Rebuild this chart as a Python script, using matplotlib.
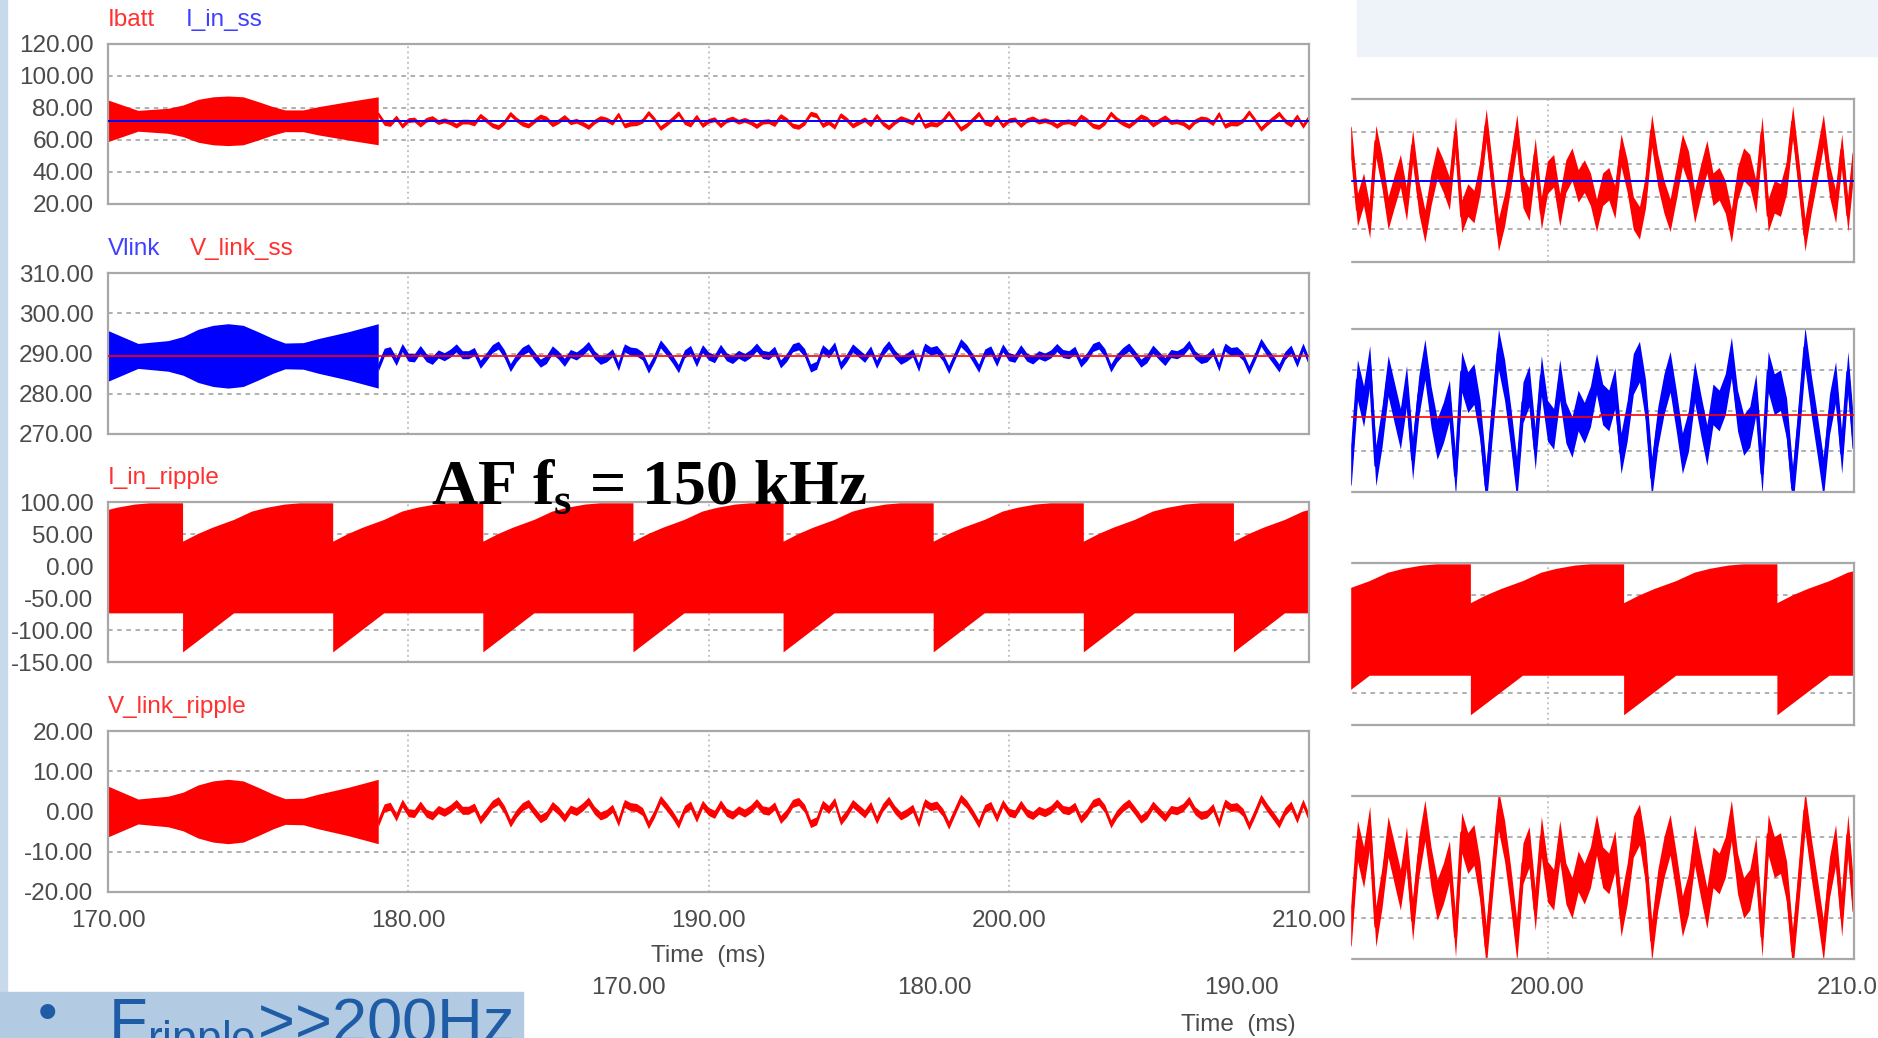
import numpy as np
import matplotlib
matplotlib.use('Agg')
from matplotlib import pyplot as plt
from matplotlib.patches import Rectangle

plt.rcParams['font.family'] = ['Liberation Sans', 'DejaVu Sans']
plt.rcParams['axes.unicode_minus'] = False
W, H = 1878, 1038

# steady-state part, sampled every 0.2 ms from 179 to 210 ms
t_ss = np.round(np.arange(179.0, 210.001, 0.2), 1)

# V_link_ripple (V)
v_link_ripple = [
    -2.8, 0.9, 1.3, -1.4, 2.1, -0.3, -0.5, 1.6, -0.4, -1.1,
    0.5, -0.2, 0.7, 2.0, 0.3, 0.3, 1.1, -2.1, -0.2, 1.8,
    2.7, 0.5, -2.9, -0.5, 1.2, 2.0, 0.0, -1.8, -0.9, 1.5,
    0.2, -1.6, 0.6, 0.0, 1.1, 2.6, 0.3, -1.1, -0.5, 0.8,
    -2.7, 2.0, 1.2, 1.0, 0.0, -3.3, -0.5, 3.0, 1.2, -0.8,
    -3.2, 0.5, 1.6, -1.7, 1.8, 0.0, -0.7, 1.9, -0.2, -0.9,
    0.4, -0.4, 0.6, 2.2, 0.4, 0.1, 1.4, -2.0, -0.4, 2.0,
    2.5, 0.8, -3.0,
    -2.3, 1.8, 0.5, 2.5, -2.4, -0.5, 2.0, 0.7, -0.6, 1.5,
    -2.1, 1.0, 2.8, 0.5, -1.1, -0.3, 0.8, -2.9, 2.2, 1.2,
    1.6, -0.2, -3.4, 0.0, 3.3, 1.8, -0.5, -3.1, 0.7, 1.5,
    -1.6, 2.0, -0.2, -0.6, 1.8, -0.3, -1.0, 0.3, -0.3, 0.5,
    2.1, 0.5, 0.2, 1.3, -1.9, -0.3, 2.0, 2.6, 0.7, -3.1,
    -0.6, 1.0, 2.1, 0.2, -1.9, -0.8, 1.6, 0.0, -1.5, 0.5,
    0.2, 1.0, 2.8, 0.2, -1.0, -0.6, 1.0, -2.9, 2.1, 1.0,
    1.2, -0.2, -3.6, -0.3, 3.3, 1.0, -1.0, -3.1, 0.0, 1.6,
    -1.9, 2.1, -1.6]

# Ibatt (A), same time base
ibatt = [
    76.2, 70.7, 70.0, 74.1, 68.8, 72.4, 72.8, 69.6, 72.6, 73.7,
    71.2, 72.3, 71.0, 69.0, 71.5, 71.5, 70.3, 75.2, 72.3, 69.3,
    68.0, 71.2, 76.4, 72.8, 70.2, 69.0, 72.0, 74.7, 73.4, 69.8,
    71.7, 74.4, 71.1, 72.0, 70.3, 68.1, 71.5, 73.7, 72.8, 70.8,
    76.0, 69.0, 70.2, 70.5, 72.0, 77.0, 72.8, 67.5, 70.2, 73.2,
    76.8, 71.2, 69.6, 74.6, 69.3, 72.0, 73.0, 69.2, 72.3, 73.4,
    71.4, 72.6, 71.1, 68.7, 71.4, 71.8, 69.9, 75.0, 72.6, 69.0,
    68.2, 70.8, 76.5,
    75.4, 69.3, 71.2, 68.2, 75.6, 72.8, 69.0, 71.0, 72.9, 69.8,
    75.2, 70.5, 67.8, 71.2, 73.7, 72.4, 70.8, 76.4, 68.7, 70.2,
    69.6, 72.3, 77.1, 72.0, 67.0, 69.3, 72.8, 76.6, 71.0, 69.8,
    74.4, 69.0, 72.3, 72.9, 69.3, 72.4, 73.5, 71.5, 72.4, 71.2,
    68.8, 71.2, 71.7, 70.0, 74.8, 72.4, 69.0, 68.1, 71.0, 76.6,
    72.9, 70.5, 68.8, 71.7, 74.8, 73.2, 69.6, 72.0, 74.2, 71.2,
    71.7, 70.5, 67.8, 71.7, 73.5, 72.9, 70.5, 76.4, 68.8, 70.5,
    70.2, 72.3, 77.4, 72.4, 67.0, 70.5, 73.5, 76.6, 72.0, 69.6,
    74.8, 68.8, 74.4]

# beat envelope (half height) of the transient part, 170..179 ms
env_t = [170.0, 171.0, 172.0, 172.5, 173.0, 173.5, 174.0, 174.5, 175.0,
         175.5, 175.9, 176.5, 177.0, 178.0, 179.0]
ibatt_env = [13.0, 6.5, 7.8, 9.9, 13.4, 15.0, 15.5, 15.0, 12.0,
             8.8, 6.8, 6.8, 8.8, 12.0, 15.0]
vlink_env = [6.3, 3.1, 3.8, 4.8, 6.6, 7.6, 8.0, 7.6, 6.0,
             4.3, 3.2, 3.3, 4.3, 6.0, 8.0]

i_in_ss = 72.0
v_link_center = 289.4
v_link_ss_t = [170.0, 201.7, 201.7, 210.0]
v_link_ss = [289.4, 289.4, 289.5, 289.5]

# I_in_ripple envelope: one cycle after each drop
i_in_drops = [167.5, 172.5, 177.5, 182.5, 187.5, 192.5, 197.5, 202.5, 207.5]
i_in_up_dt = [0.0, 0.5, 1.0, 1.7, 2.3, 2.8, 3.4, 3.9, 5.0]
i_in_up = [38, 50, 60, 72, 85, 91, 96, 98, 98]
i_in_lo_dt = [0.0, 1.7, 5.0]
i_in_lo = [-135, -74, -74]

v_sw = 1.0   # switching ripple half height, V
i_sw = 1.5   # A

vlink = np.array(v_link_ripple) + np.interp(t_ss, v_link_ss_t, v_link_ss)
ibatt = np.array(ibatt)
v_rip = np.array(v_link_ripple)

ux, uy, lx, ly = [], [], [], []
for td in i_in_drops:
    ux += [td + d for d in i_in_up_dt]
    uy += i_in_up
    lx += [td + d for d in i_in_lo_dt]
    ly += i_in_lo
iin_x = ux + lx[::-1]
iin_y = uy + ly[::-1]

RED = '#ff0000'
BLUE = '#0000ff'


def box(x0, y0, x1, y1):
    return [x0 / W, 1 - y1 / H, (x1 - x0) / W, (y1 - y0) / H]


def style(ax, ylim, yticks, left=True, bottom=False):
    ax.set_xlim(170, 210)
    ax.set_ylim(ylim)
    ax.set_xticks([170, 180, 190, 200, 210])
    ax.set_yticks(yticks)
    for s in ax.spines.values():
        s.set_color('#a8a8a8')
        s.set_linewidth(1.6)
    ax.tick_params(length=0, labelsize=17.5, labelcolor='#4a4a4a')
    ax.tick_params(axis='y', pad=10.5, labelleft=left)
    ax.tick_params(axis='x', pad=13, labelbottom=bottom)
    ax.xaxis.set_major_formatter('{x:.2f}')
    ax.yaxis.set_major_formatter('{x:.2f}')
    for y in yticks[1:-1]:
        ax.axhline(y, color='#9a9a9a', lw=1.1, dashes=(3, 3), zorder=0.5)
    for x in (180, 190, 200):
        ax.axvline(x, color='#b0b0b0', lw=1.1, dashes=(1.2, 2.2), zorder=0.5)


def noise(ax, y, sw, color, lw):
    ax.fill_between(t_ss, y - sw, y + sw, color=color, lw=0, zorder=2)
    ax.plot(t_ss, y, color=color, lw=lw, zorder=2)


def draw_ibatt(ax, lw):
    env = np.array(ibatt_env)
    ax.fill_between(env_t, i_in_ss - env, i_in_ss + env, color=RED, lw=0, zorder=2)
    noise(ax, ibatt, i_sw, RED, lw)
    ax.axhline(i_in_ss, color=BLUE, lw=1.4, zorder=3)


def draw_vlink(ax, lw):
    env = np.array(vlink_env)
    ax.fill_between(env_t, v_link_center - env, v_link_center + env, color=BLUE, lw=0, zorder=2)
    noise(ax, vlink, v_sw, BLUE, lw)
    ax.plot(v_link_ss_t, v_link_ss, color=RED, lw=1.2, zorder=3)


def draw_iin(ax):
    ax.fill(iin_x, iin_y, color=RED, lw=0, zorder=2)


def draw_vrip(ax, lw):
    env = np.array(vlink_env)
    ax.fill_between(env_t, -env, env, color=RED, lw=0, zorder=2)
    noise(ax, v_rip, v_sw, RED, lw)


fig = plt.figure(figsize=(W / 100, H / 100), dpi=100, facecolor='white')

# background pieces of the slide
fig.patches.append(Rectangle((1357 / W, 1 - 56 / H), (W - 1357) / W, 56 / H,
                             transform=fig.transFigure, color='#eef3f9', zorder=0.5))

# second (zoomed) PSIM window, mostly hidden behind the first one
r1 = fig.add_axes(box(628, 99, 1854, 262))
r2 = fig.add_axes(box(628, 329, 1854, 492))
r3 = fig.add_axes(box(628, 563, 1854, 725))
r4 = fig.add_axes(box(628, 796, 1854, 959))
for ax in (r1, r2, r3, r4):
    ax.set_zorder(1)
draw_ibatt(r1, 2.2)
style(r1, (64.5, 79.5), list(np.arange(64.5, 79.6, 3.0)), left=False)
draw_vlink(r2, 2.2)
style(r2, (285.7, 293.7), list(np.arange(285.7, 293.8, 2.0)), left=False)
draw_iin(r3)
style(r3, (-150, 100), [-150, -100, -50, 0, 50, 100], left=False)
draw_vrip(r4, 2.2)
style(r4, (-4, 4), [-4, -2, 0, 2, 4], left=False, bottom=True)
fig.text(1238 / W, 1 - 1025 / H, 'Time  (ms)', fontsize=17.5, color='#4a4a4a',
         ha='center', va='center', zorder=1)

# first PSIM window
fig.patches.append(Rectangle((7 / W, 1 - 972 / H), (1350 - 7) / W, 972 / H,
                             transform=fig.transFigure, color='white', zorder=2))

p1 = fig.add_axes(box(108, 44, 1309, 204))
p2 = fig.add_axes(box(108, 273, 1309, 434))
p3 = fig.add_axes(box(108, 502, 1309, 662))
p4 = fig.add_axes(box(108, 731, 1309, 892))
for ax in (p1, p2, p3, p4):
    ax.set_zorder(3)
draw_ibatt(p1, 1.2)
style(p1, (20, 120), [20, 40, 60, 80, 100, 120])
draw_vlink(p2, 1.2)
style(p2, (270, 310), [270, 280, 290, 300, 310])
draw_iin(p3)
style(p3, (-150, 100), [-150, -100, -50, 0, 50, 100])
draw_vrip(p4, 1.2)
style(p4, (-20, 20), [-20, -10, 0, 10, 20], bottom=True)

lab = dict(fontsize=17.5, va='center', zorder=4)
fig.text(108 / W, 1 - 20 / H, 'Ibatt', color='#ff3030', **lab)
fig.text(186 / W, 1 - 20 / H, 'I_in_ss', color='#4040ff', **lab)
fig.text(108 / W, 1 - 249 / H, 'Vlink', color='#4040ff', **lab)
fig.text(190 / W, 1 - 249 / H, 'V_link_ss', color='#ff3030', **lab)
fig.text(108 / W, 1 - 478 / H, 'I_in_ripple', color='#ff3030', **lab)
fig.text(108 / W, 1 - 707 / H, 'V_link_ripple', color='#ff3030', **lab)
fig.text(708 / W, 1 - 956 / H, 'Time  (ms)', fontsize=17.5, color='#4a4a4a',
         ha='center', va='center', zorder=4)

fig.text(431 / W, 1 - 503 / H, r'AF f$_\mathregular{s}$ = 150 kHz', fontsize=46,
         family='Liberation Serif', weight='bold', color='black', va='baseline', zorder=5)

# slide decorations
fig.patches.append(Rectangle((0, 0), 7 / W, 1, transform=fig.transFigure,
                             color='#c9d9ec', zorder=4))
fig.patches.append(Rectangle((0, 0), 523 / W, 46 / H, transform=fig.transFigure,
                             color='#b2cae2', zorder=4))
fig.text(48 / W, 1 - 1016 / H, '\u2022', fontsize=40, color='#1f5ca6',
         ha='center', va='center', zorder=5)
fig.text(108 / W, 1 - 1042.5 / H, r'F$_\mathregular{ripple}$>>200Hz', fontsize=45.5,
         color='#1f5ca6', va='baseline', zorder=5)

fig.savefig('out.png', dpi=100, facecolor='white')
